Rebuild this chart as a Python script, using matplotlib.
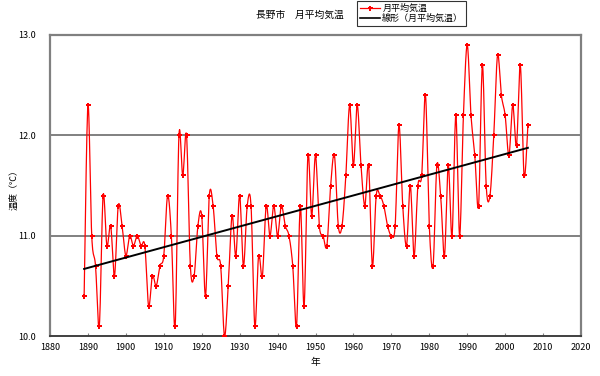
import matplotlib
matplotlib.use("Agg")
import matplotlib.pyplot as plt
import numpy as np

plt.rcParams['font.family'] = ['Noto Sans CJK JP', 'DejaVu Sans']

# 長野市の年平均気温 (1889-2006)
years = list(range(1889, 2007))
temps = [
    10.4, 12.3, 11.0, 10.7, 10.1, 11.4, 10.9, 11.1, 10.6, 11.3,   # 1889-1898
    11.1, 10.8, 11.0, 10.9, 11.0, 10.9, 10.9, 10.3, 10.6, 10.5,   # 1899-1908
    10.7, 10.8, 11.4, 11.0, 10.1, 12.0, 11.6, 12.0, 10.7, 10.6,   # 1909-1918
    11.1, 11.2, 10.4, 11.4, 11.3, 10.8, 10.7, 10.0, 10.5, 11.2,   # 1919-1928
    10.8, 11.4, 10.7, 11.3, 11.3, 10.1, 10.8, 10.6, 11.3, 11.0,   # 1929-1938
    11.3, 11.0, 11.3, 11.1, 11.0, 10.7, 10.1, 11.3, 10.3, 11.8,   # 1939-1948
    11.2, 11.8, 11.1, 11.0, 10.9, 11.5, 11.8, 11.1, 11.1, 11.6,   # 1949-1958
    12.3, 11.7, 12.3, 11.7, 11.3, 11.7, 10.7, 11.4, 11.4, 11.3,   # 1959-1968
    11.1, 11.0, 11.1, 12.1, 11.3, 10.9, 11.5, 10.8, 11.5, 11.6,   # 1969-1978
    12.4, 11.1, 10.7, 11.7, 11.4, 10.8, 11.7, 11.0, 12.2, 11.0,   # 1979-1988
    12.2, 12.9, 12.2, 11.8, 11.3, 12.7, 11.5, 11.4, 12.0, 12.8,   # 1989-1998
    12.4, 12.2, 11.8, 12.3, 11.9, 12.7, 11.6, 12.1,               # 1999-2006
]

xticks = list(range(1880, 2021, 10))
yticks = [10.0, 11.0, 12.0, 13.0]


def smooth_curve(x, y, steps=12):
    # Excel風の平滑線 (Catmull-Rom)
    x = np.asarray(x, float)
    y = np.asarray(y, float)
    px = np.concatenate([[x[0]], x, [x[-1]]])
    py = np.concatenate([[y[0]], y, [y[-1]]])
    xs, ys = [], []
    t = np.linspace(0, 1, steps, endpoint=False)
    for i in range(1, len(px) - 2):
        x0, x1, x2, x3 = px[i - 1:i + 3]
        y0, y1, y2, y3 = py[i - 1:i + 3]
        c1x, c1y = x1 + (x2 - x0) / 6, y1 + (y2 - y0) / 6
        c2x, c2y = x2 - (x3 - x1) / 6, y2 - (y3 - y1) / 6
        b0 = (1 - t) ** 3
        b1 = 3 * (1 - t) ** 2 * t
        b2 = 3 * (1 - t) * t ** 2
        b3 = t ** 3
        xs.extend(b0 * x1 + b1 * c1x + b2 * c2x + b3 * x2)
        ys.extend(b0 * y1 + b1 * c1y + b2 * c2y + b3 * y2)
    xs.append(x[-1])
    ys.append(y[-1])
    return xs, ys


fig = plt.figure(figsize=(6.0, 3.76), dpi=100)
ax = fig.add_axes([50 / 600, 1 - 336 / 376, 531 / 600, 301 / 376])

sx, sy = smooth_curve(years, temps)
ax.plot(sx, sy, color='#FF0000', linewidth=0.9, zorder=3)
ax.plot(years, temps, linestyle='none', marker='P', markersize=3.6,
        color='#FF0000', markeredgewidth=0, zorder=4)

# 線形近似
coef = np.polyfit(years, temps, 1)
fit_x = np.array([years[0], years[-1]])
ax.plot(fit_x, np.polyval(coef, fit_x), color='black', linewidth=1.4, zorder=5)

for yv in [11.0, 12.0]:
    ax.axhline(yv, color='#808080', linewidth=1.4, zorder=1)

ax.set_xlim(1880, 2020)
ax.set_ylim(10.0, 13.0)
ax.set_xticks(xticks)
ax.set_yticks(yticks)
ax.set_yticklabels([f"{v:.1f}" for v in yticks])
ax.tick_params(axis='x', direction='in', length=2, width=0.8, colors='#808080',
               labelcolor='black', labelsize=6.5, pad=5)
ax.tick_params(axis='y', length=0, labelsize=6.5, pad=10)

for side in ['top', 'right', 'left']:
    ax.spines[side].set_color('#808080')
    ax.spines[side].set_linewidth(1.6)
ax.spines['bottom'].set_color('#404040')
ax.spines['bottom'].set_linewidth(1.4)

ax.set_xlabel('年', fontsize=7, labelpad=4)
fig.text(14 / 600, 1 - 188 / 376, '温度（℃）', rotation=90, fontsize=6.5,
         ha='center', va='center')
fig.text(300 / 600, 1 - 15 / 376, '長野市　月平均気温', fontsize=7,
         ha='center', va='center')

# 凡例
ax.plot([], [], color='#FF0000', linewidth=0.9, marker='P', markersize=3.6,
        markeredgewidth=0, label='月平均気温')
ax.plot([], [], color='black', linewidth=1.2, label='線形（月平均気温）')
handles, labels = ax.get_legend_handles_labels()
leg = fig.legend(handles, labels, loc='upper left',
                 bbox_to_anchor=(357 / 600, 1 - 1 / 376), fontsize=6.5,
                 frameon=True, fancybox=False, shadow=False, handlelength=2.2,
                 handletextpad=0.3, borderpad=0.3, labelspacing=0.1,
                 borderaxespad=0)
leg.get_frame().set_edgecolor('black')
leg.get_frame().set_linewidth(0.8)

fig.savefig('out.png', dpi=100)
